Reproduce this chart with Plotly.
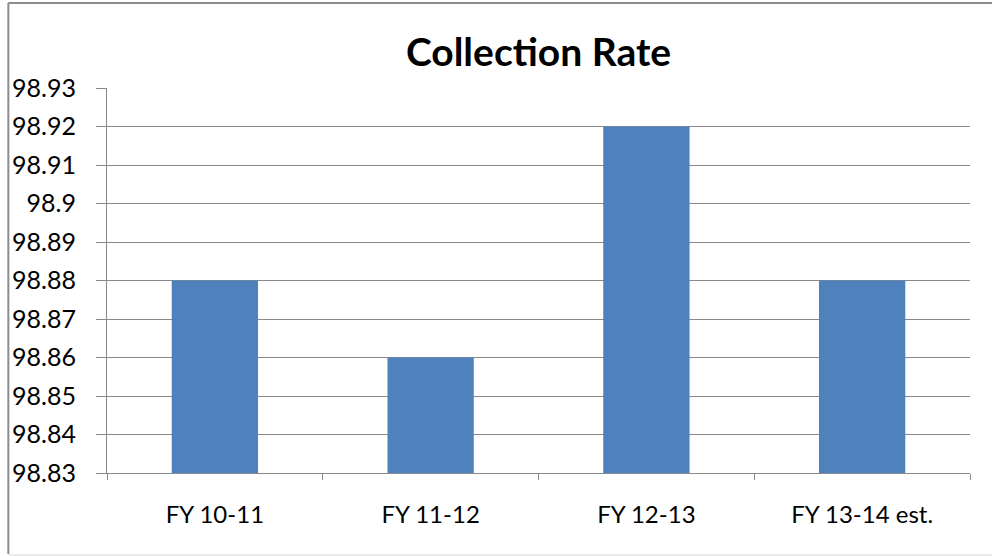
import plotly.graph_objects as go

categories = ["FY 10-11", "FY 11-12", "FY 12-13", "FY 13-14 est."]
values = [98.88, 98.86, 98.92, 98.88]
y_base = 98.83
y_tickvals = [98.83, 98.84, 98.85, 98.86, 98.87, 98.88, 98.89, 98.90, 98.91, 98.92, 98.93]
y_ticktext = ["98.83", "98.84", "98.85", "98.86", "98.87", "98.88", "98.89", "98.9", "98.91", "98.92", "98.93"]

W, H = 992, 556
L, R, T, B = 104, 22, 88, 83
pw, ph = W - L - R, H - T - B

def px_x(p):
    return (p - L) / pw

def px_y(p):
    return (H - B - p) / ph

FONT = "Lato, 'Open Sans', sans-serif"
GRID = "#898989"

fig = go.Figure(go.Bar(
    x=categories, y=[v - y_base for v in values], base=y_base,
    marker=dict(color="#4F81BD", line=dict(width=0)),
    width=0.4,
))

fig.update_layout(
    width=W, height=H,
    margin=dict(l=L, r=R, t=T, b=B),
    paper_bgcolor="white", plot_bgcolor="white",
    title=dict(text="<b>Collection Rate</b>", x=0.5, xref="paper", xanchor="center",
               y=1 - 52 / H, yanchor="middle",
               font=dict(family=FONT, size=39, color="black")),
    font=dict(family=FONT, color="black"),
    showlegend=False,
    xaxis=dict(
        type="category", showgrid=False, showline=True, linecolor=GRID, linewidth=1,
        ticks="outside", tickson="boundaries", ticklen=6, tickcolor=GRID,
        tickfont=dict(size=24, family=FONT, color="black"),
        ticklabelstandoff=20,
        zeroline=False,
    ),
    yaxis=dict(
        range=[98.83, 98.93], tickvals=y_tickvals, ticktext=y_ticktext,
        showgrid=True, gridcolor=GRID, gridwidth=1,
        showline=True, linecolor=GRID, linewidth=1,
        ticks="outside", ticklen=10, tickcolor=GRID,
        tickfont=dict(size=25, family=FONT, color="black"),
        ticklabelstandoff=15,
        zeroline=False,
    ),
    shapes=[
        dict(type="line", xref="paper", yref="paper", x0=px_x(5), x1=px_x(5), y0=px_y(3), y1=px_y(554),
             line=dict(color="#8c8c8c", width=2)),
        dict(type="line", xref="paper", yref="paper", x0=px_x(5), x1=px_x(1000), y0=px_y(3), y1=px_y(3),
             line=dict(color="#8c8c8c", width=2)),
        dict(type="line", xref="paper", yref="paper", x0=px_x(5), x1=px_x(1000), y0=px_y(555), y1=px_y(555),
             line=dict(color="#d9d9d9", width=1)),
    ],
)

fig.write_html("out.html", config={"displayModeBar": False},
               post_script="document.body.style.margin='0';document.body.style.overflow='hidden';")
